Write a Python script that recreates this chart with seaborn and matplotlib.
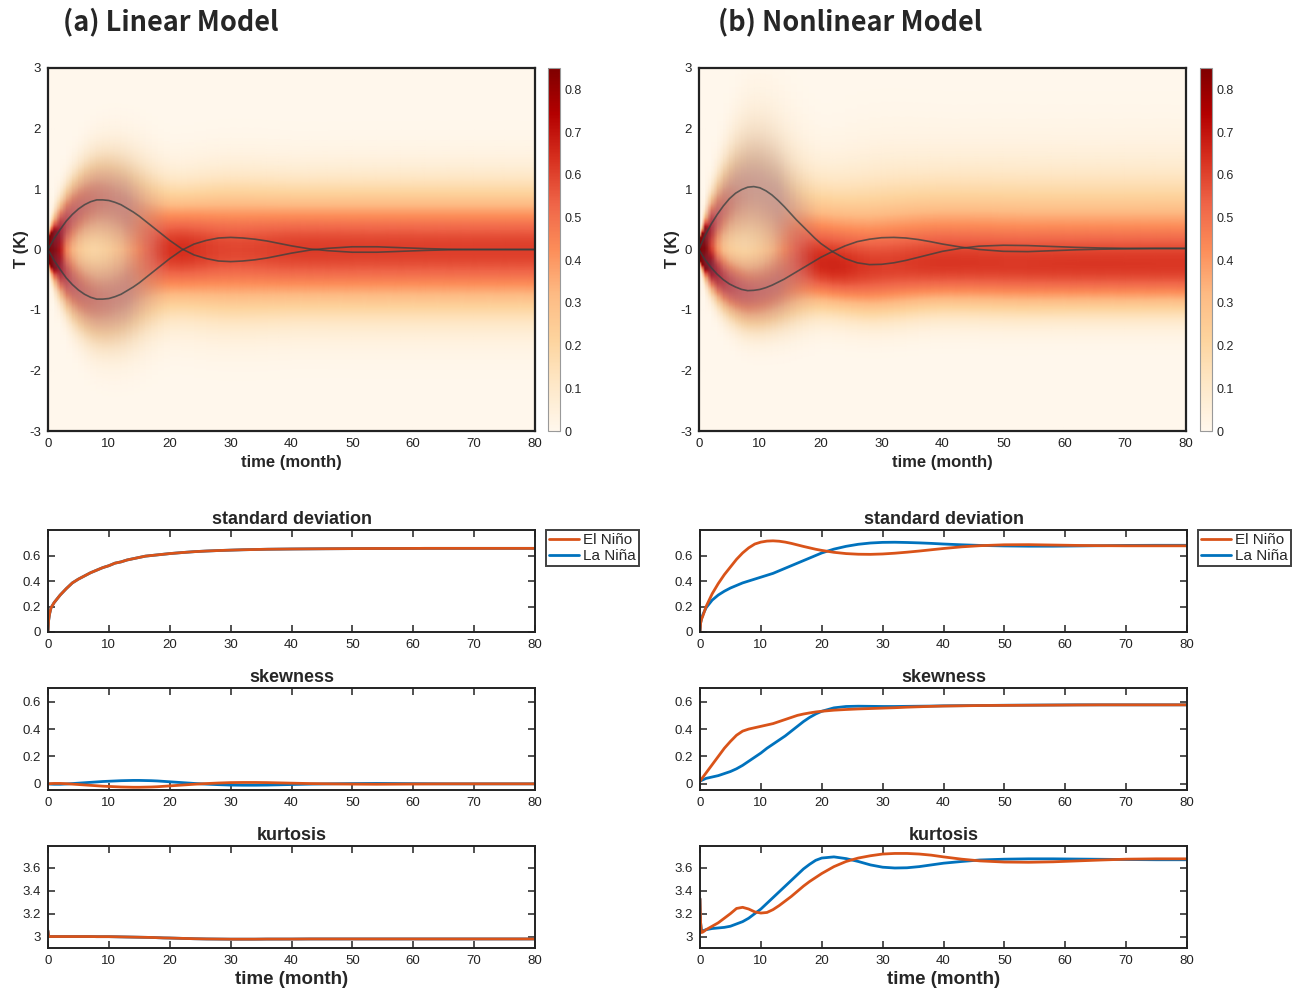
import math
import numpy as np
import matplotlib
matplotlib.use("Agg")
import matplotlib.pyplot as plt
from matplotlib.colors import Normalize
from matplotlib.cm import ScalarMappable
from matplotlib.ticker import FuncFormatter
import seaborn as sns

# ---------------- data ----------------
t = [0, 0.1, 0.25, 0.5, 1, 2, 3, 4, 5, 6, 7, 8, 9, 10, 11, 12, 13, 14, 15, 16, 17, 18, 19, 20,
     22, 24, 26, 28, 30, 32, 34, 36, 38, 40, 43, 46, 50, 54, 58, 62, 66, 70, 75, 80]

# linear model
lin_mean_elnino = [0.00, 0.02, 0.045, 0.09, 0.18, 0.33, 0.47, 0.58, 0.67, 0.74, 0.79, 0.82, 0.82, 0.81,
                   0.78, 0.74, 0.68, 0.62, 0.55, 0.47, 0.39, 0.31, 0.23, 0.15, 0.01, -0.09, -0.15,
                   -0.19, -0.20, -0.19, -0.17, -0.14, -0.10, -0.06, -0.01, 0.02, 0.045, 0.045, 0.03,
                   0.015, 0.005, 0.0, 0.0, 0.0]
lin_mean_lanina = [0.00, -0.02, -0.045, -0.09, -0.18, -0.33, -0.47, -0.58, -0.67, -0.74, -0.79, -0.82,
                   -0.82, -0.81, -0.78, -0.74, -0.68, -0.62, -0.55, -0.47, -0.39, -0.31, -0.23, -0.15,
                   -0.01, 0.09, 0.15, 0.19, 0.20, 0.19, 0.17, 0.14, 0.10, 0.06, 0.01, -0.02, -0.045,
                   -0.045, -0.03, -0.015, -0.005, 0.0, 0.0, 0.0]
lin_std_elnino = [0.0, 0.09, 0.14, 0.19, 0.23, 0.29, 0.34, 0.385, 0.415, 0.44, 0.465, 0.485, 0.505,
                  0.52, 0.54, 0.55, 0.565, 0.575, 0.585, 0.595, 0.6, 0.605, 0.61, 0.615, 0.623, 0.63,
                  0.635, 0.639, 0.642, 0.645, 0.647, 0.649, 0.65, 0.651, 0.652, 0.653, 0.654, 0.655,
                  0.655, 0.656, 0.656, 0.656, 0.656, 0.656]
lin_std_lanina = [0.0, 0.09, 0.14, 0.19, 0.23, 0.29, 0.34, 0.385, 0.415, 0.44, 0.465, 0.485, 0.505,
                  0.52, 0.54, 0.55, 0.565, 0.575, 0.585, 0.595, 0.6, 0.605, 0.61, 0.615, 0.623, 0.63,
                  0.635, 0.639, 0.642, 0.645, 0.647, 0.649, 0.65, 0.651, 0.652, 0.653, 0.654, 0.655,
                  0.655, 0.656, 0.656, 0.656, 0.656, 0.656]
lin_skew_elnino = [0.0, 0.0005, 0.001, 0.002, 0.003, 0.003, 0.001, -0.002, -0.005, -0.008, -0.011,
                   -0.014, -0.017, -0.019, -0.021, -0.023, -0.024, -0.025, -0.025, -0.024, -0.023,
                   -0.021, -0.018, -0.015, -0.009, -0.003, 0.002, 0.006, 0.009, 0.01, 0.01, 0.009,
                   0.007, 0.005, 0.002, 0.0, -0.002, -0.003, -0.002, -0.001, 0.0, 0.0, 0.0, 0.0]
lin_skew_lanina = [0.0, -0.0005, -0.001, -0.002, -0.003, -0.003, -0.001, 0.002, 0.005, 0.008, 0.011,
                   0.014, 0.017, 0.019, 0.021, 0.023, 0.024, 0.025, 0.025, 0.024, 0.023, 0.021, 0.018,
                   0.015, 0.009, 0.003, -0.002, -0.006, -0.009, -0.01, -0.01, -0.009, -0.007, -0.005,
                   -0.002, 0.0, 0.002, 0.003, 0.002, 0.001, 0.0, 0.0, 0.0, 0.0]
lin_kurt_elnino = [3.05, 3.0, 3.0, 3.0, 3.0, 3.0, 3.0, 3.0, 3.0, 3.0, 3.0, 2.999, 2.999, 2.999, 2.998,
                   2.997, 2.996, 2.995, 2.994, 2.993, 2.992, 2.99, 2.988, 2.987, 2.984, 2.981, 2.979,
                   2.978, 2.977, 2.977, 2.977, 2.978, 2.978, 2.978, 2.979, 2.979, 2.979, 2.979, 2.979,
                   2.979, 2.979, 2.979, 2.979, 2.979]
lin_kurt_lanina = [3.05, 3.0, 3.0, 3.0, 3.0, 3.0, 3.0, 3.0, 3.0, 3.0, 3.0, 2.999, 2.999, 2.999, 2.998,
                   2.997, 2.996, 2.995, 2.994, 2.993, 2.992, 2.99, 2.988, 2.987, 2.984, 2.981, 2.979,
                   2.978, 2.977, 2.977, 2.977, 2.978, 2.978, 2.978, 2.979, 2.979, 2.979, 2.979, 2.979,
                   2.979, 2.979, 2.979, 2.979, 2.979]

# nonlinear model
nl_mean_elnino = [0.0, 0.025, 0.06, 0.12, 0.23, 0.42, 0.58, 0.72, 0.84, 0.93, 0.99, 1.03, 1.04, 1.02,
                  0.97, 0.90, 0.81, 0.71, 0.60, 0.49, 0.39, 0.29, 0.19, 0.10, -0.04, -0.15, -0.22,
                  -0.25, -0.245, -0.22, -0.18, -0.13, -0.08, -0.03, 0.02, 0.055, 0.07, 0.065, 0.05,
                  0.035, 0.025, 0.02, 0.02, 0.02]
nl_mean_lanina = [0.0, -0.018, -0.045, -0.09, -0.17, -0.30, -0.41, -0.50, -0.57, -0.62, -0.66, -0.68,
                  -0.675, -0.66, -0.63, -0.59, -0.54, -0.49, -0.43, -0.37, -0.31, -0.25, -0.19, -0.13,
                  -0.03, 0.06, 0.13, 0.17, 0.195, 0.20, 0.19, 0.165, 0.13, 0.09, 0.04, 0.0, -0.03,
                  -0.035, -0.02, -0.005, 0.005, 0.01, 0.015, 0.015]
nl_std_elnino = [0.0, 0.07, 0.1, 0.13, 0.2, 0.3, 0.38, 0.45, 0.51, 0.57, 0.62, 0.66, 0.69, 0.705, 0.713,
                 0.715, 0.712, 0.705, 0.695, 0.683, 0.671, 0.66, 0.649, 0.64, 0.625, 0.615, 0.61,
                 0.609, 0.612, 0.618, 0.626, 0.635, 0.645, 0.655, 0.668, 0.677, 0.684, 0.685, 0.682,
                 0.679, 0.677, 0.676, 0.676, 0.676]
nl_std_lanina = [0.0, 0.07, 0.105, 0.14, 0.19, 0.25, 0.29, 0.32, 0.345, 0.365, 0.385, 0.40, 0.415,
                 0.43, 0.445, 0.46, 0.48, 0.50, 0.52, 0.54, 0.56, 0.58, 0.60, 0.62, 0.65, 0.672,
                 0.688, 0.698, 0.703, 0.704, 0.702, 0.699, 0.695, 0.69, 0.684, 0.679, 0.675, 0.673,
                 0.673, 0.675, 0.677, 0.679, 0.68, 0.68]
nl_skew_elnino = [0.02, 0.025, 0.035, 0.05, 0.08, 0.14, 0.2, 0.26, 0.31, 0.355, 0.385, 0.40, 0.41,
                  0.42, 0.43, 0.44, 0.455, 0.47, 0.485, 0.50, 0.51, 0.518, 0.525, 0.53, 0.538, 0.543,
                  0.547, 0.55, 0.553, 0.556, 0.56, 0.563, 0.566, 0.568, 0.57, 0.572, 0.573, 0.574,
                  0.575, 0.576, 0.577, 0.577, 0.577, 0.577]
nl_skew_lanina = [0.02, 0.022, 0.025, 0.03, 0.04, 0.05, 0.06, 0.075, 0.09, 0.11, 0.135, 0.165, 0.195,
                  0.225, 0.26, 0.29, 0.32, 0.35, 0.385, 0.42, 0.455, 0.485, 0.51, 0.53, 0.555, 0.565,
                  0.567, 0.566, 0.565, 0.565, 0.566, 0.567, 0.568, 0.57, 0.571, 0.572, 0.574, 0.575,
                  0.576, 0.577, 0.577, 0.577, 0.577, 0.577]
nl_kurt_elnino = [3.33, 3.12, 3.035, 3.04, 3.06, 3.09, 3.12, 3.16, 3.2, 3.245, 3.255, 3.24, 3.215,
                  3.205, 3.21, 3.235, 3.27, 3.31, 3.35, 3.395, 3.44, 3.48, 3.515, 3.55, 3.61, 3.655,
                  3.685, 3.705, 3.72, 3.725, 3.725, 3.72, 3.71, 3.695, 3.675, 3.66, 3.65, 3.648, 3.652,
                  3.66, 3.668, 3.675, 3.678, 3.678]
nl_kurt_lanina = [3.33, 3.12, 3.045, 3.05, 3.06, 3.07, 3.075, 3.08, 3.09, 3.11, 3.13, 3.16, 3.2, 3.24,
                  3.29, 3.34, 3.39, 3.44, 3.49, 3.54, 3.59, 3.63, 3.665, 3.685, 3.695, 3.68, 3.655,
                  3.625, 3.605, 3.598, 3.6, 3.61, 3.625, 3.64, 3.655, 3.668, 3.675, 3.678, 3.678,
                  3.676, 3.674, 3.672, 3.67, 3.67]

time_ticks = [0, 10, 20, 30, 40, 50, 60, 70, 80]

# ---------------- style ----------------
sns.set_style("ticks")
plt.rcParams["font.family"] = ["Liberation Sans", "DejaVu Sans"]
plt.rcParams["axes.unicode_minus"] = False

ORANGE = "#D95319"
BLUE = "#0072BD"
W, H = 1298, 991
fig = plt.figure(figsize=(W / 100, H / 100), dpi=100)


def px_axes(x0, y0, x1, y1):
    return fig.add_axes([x0 / W, 1 - y1 / H, (x1 - x0) / W, (y1 - y0) / H])


fmt = FuncFormatter(lambda v, p: "{:g}".format(round(v, 3)))
tgrid = np.asarray(t, dtype=float)
Tgrid = np.linspace(-3, 3, 361)
erf = np.vectorize(math.erf)
cmap = plt.get_cmap("OrRd")
norm = Normalize(vmin=0, vmax=0.85)
SPREAD_GRAY = np.array([0.50, 0.40, 0.60])


def skewed_pdf(x, mu, sd, g):
    # skew-normal matched to mean / std / skewness
    g = np.clip(g, -0.95, 0.95)
    dd = np.linspace(0, 0.999, 3000)
    bb = dd * np.sqrt(2 / np.pi)
    gg = (4 - np.pi) / 2 * bb ** 3 / (1 - bb ** 2) ** 1.5
    d = np.sign(g) * np.interp(np.abs(g), gg, dd)
    b = d * np.sqrt(2 / np.pi)
    w = sd / np.sqrt(1 - b ** 2)
    xi = mu - w * b
    a = d / np.sqrt(1 - d ** 2)
    z = (x - xi) / w
    return 2 / w * np.exp(-0.5 * z ** 2) / np.sqrt(2 * np.pi) * 0.5 * (1 + erf(a * z / np.sqrt(2)))


def pdf_panel(ax, cax, m_e, m_l, s_e, s_l, k_e, k_l):
    TT, tt = np.meshgrid(Tgrid, tgrid, indexing="ij")
    me, ml = np.asarray(m_e)[None, :], np.asarray(m_l)[None, :]
    se = np.maximum(np.asarray(s_e), 0.06)[None, :]
    sl = np.maximum(np.asarray(s_l), 0.06)[None, :]
    ke, kl = np.asarray(k_e)[None, :], np.asarray(k_l)[None, :]
    dens = 0.5 * skewed_pdf(TT, me, se, ke) + 0.5 * skewed_pdf(TT, ml, sl, kl)
    rgb = cmap(norm(dens))[..., :3]
    # grey tint of the early ensemble spread
    fade = np.clip((20 - tt) / 7, 0, 1) * np.clip(tt / 1.5, 0, 1)
    spread = np.maximum(np.exp(-0.9 * ((TT - me) / se) ** 2),
                        np.exp(-0.9 * ((TT - ml) / sl) ** 2)) * fade
    alpha = (0.4 * spread)[..., None]
    rgb = rgb * (1 - alpha) + SPREAD_GRAY[None, None, :] * alpha
    ax.pcolormesh(tgrid, Tgrid, rgb, shading="gouraud", rasterized=True)
    for m in (m_e, m_l):
        sns.lineplot(x=tgrid, y=m, color="#34403f", alpha=0.75, lw=1.2, ax=ax)
    ax.set_xlim(0, 80)
    ax.set_ylim(-3, 3)
    ax.set_xticks(time_ticks)
    ax.set_yticks([-3, -2, -1, 0, 1, 2, 3])
    ax.xaxis.set_major_formatter(fmt)
    ax.yaxis.set_major_formatter(fmt)
    ax.tick_params(direction="in", top=True, right=True, length=5, width=1.2,
                   labelsize=9.5, pad=5, colors="#222222")
    for s in ax.spines.values():
        s.set_linewidth(1.6)
        s.set_color("#222222")
    ax.set_xlabel("time (month)", fontsize=12, fontweight="bold", labelpad=4)
    ax.set_ylabel("T (K)", fontsize=12, fontweight="bold", labelpad=0)
    cb = fig.colorbar(ScalarMappable(norm=norm, cmap=cmap), cax=cax,
                      ticks=[0, 0.1, 0.2, 0.3, 0.4, 0.5, 0.6, 0.7, 0.8])
    cb.ax.yaxis.set_major_formatter(fmt)
    cb.ax.tick_params(direction="in", length=3, width=0.8, color="#999999", labelsize=9, pad=3)
    cb.outline.set_edgecolor("#999999")
    cb.outline.set_linewidth(0.8)


def moment_panel(ax, el, la, ylim, yticks, title, legend=False, xlabel=False):
    sns.lineplot(x=tgrid, y=la, color=BLUE, lw=2, ax=ax)
    sns.lineplot(x=tgrid, y=el, color=ORANGE, lw=2, ax=ax)
    ax.set_xlim(0, 80)
    ax.set_ylim(*ylim)
    ax.set_xticks(time_ticks)
    ax.set_yticks(yticks)
    ax.xaxis.set_major_formatter(fmt)
    ax.yaxis.set_major_formatter(fmt)
    ax.tick_params(direction="in", top=True, right=True, length=5, width=1.1,
                   labelsize=9.5, pad=5, colors="#222222")
    for s in ax.spines.values():
        s.set_linewidth(1.4)
        s.set_color("#222222")
    ax.set_title(title, fontsize=13, fontweight="bold", pad=4)
    if xlabel:
        ax.set_xlabel("time (month)", fontsize=13.5, fontweight="bold", labelpad=3)
    if legend:
        h_la, h_el = ax.get_lines()[0], ax.get_lines()[1]
        leg = ax.legend([h_el, h_la], ["El Niño", "La Niña"], loc="upper left",
                        bbox_to_anchor=(1.022, 1.0), frameon=True, fancybox=False,
                        edgecolor="#111111", fontsize=11, handlelength=2.0,
                        handletextpad=0.25, borderpad=0.2, labelspacing=0.12,
                        borderaxespad=0)
        leg.get_frame().set_linewidth(1.4)


# ---------------- layout ----------------
ax_a = px_axes(48, 68, 535, 431)
cax_a = px_axes(548, 68, 560, 431)
ax_b = px_axes(699, 68, 1186, 431)
cax_b = px_axes(1200, 68, 1212, 431)

pdf_panel(ax_a, cax_a, lin_mean_elnino, lin_mean_lanina, lin_std_elnino, lin_std_lanina,
          lin_skew_elnino, lin_skew_lanina)
pdf_panel(ax_b, cax_b, nl_mean_elnino, nl_mean_lanina, nl_std_elnino, nl_std_lanina,
          nl_skew_elnino, nl_skew_lanina)

rows = [(530, 632), (688, 790), (846, 948)]
for x0, x1, data in [
    (48, 535, (lin_std_elnino, lin_std_lanina, lin_skew_elnino, lin_skew_lanina,
               lin_kurt_elnino, lin_kurt_lanina)),
    (700, 1187, (nl_std_elnino, nl_std_lanina, nl_skew_elnino, nl_skew_lanina,
                 nl_kurt_elnino, nl_kurt_lanina)),
]:
    a1 = px_axes(x0, rows[0][0], x1, rows[0][1])
    moment_panel(a1, data[0], data[1], (0, 0.8), [0, 0.2, 0.4, 0.6], "standard deviation", legend=True)
    a2 = px_axes(x0, rows[1][0], x1, rows[1][1])
    moment_panel(a2, data[2], data[3], (-0.045, 0.7), [0, 0.2, 0.4, 0.6], "skewness")
    a3 = px_axes(x0, rows[2][0], x1, rows[2][1])
    moment_panel(a3, data[4], data[5], (2.9, 3.79), [3, 3.2, 3.4, 3.6], "kurtosis", xlabel=True)

fig.text(63 / W, 1 - 22 / H, "(a) Linear Model", fontsize=19.5, fontweight="bold",
         family=["Noto Sans CJK KR", "DejaVu Sans"], ha="left", va="center")
fig.text(718 / W, 1 - 22 / H, "(b) Nonlinear Model", fontsize=19.5, fontweight="bold",
         family=["Noto Sans CJK KR", "DejaVu Sans"], ha="left", va="center")

fig.savefig("out.png", dpi=100)
